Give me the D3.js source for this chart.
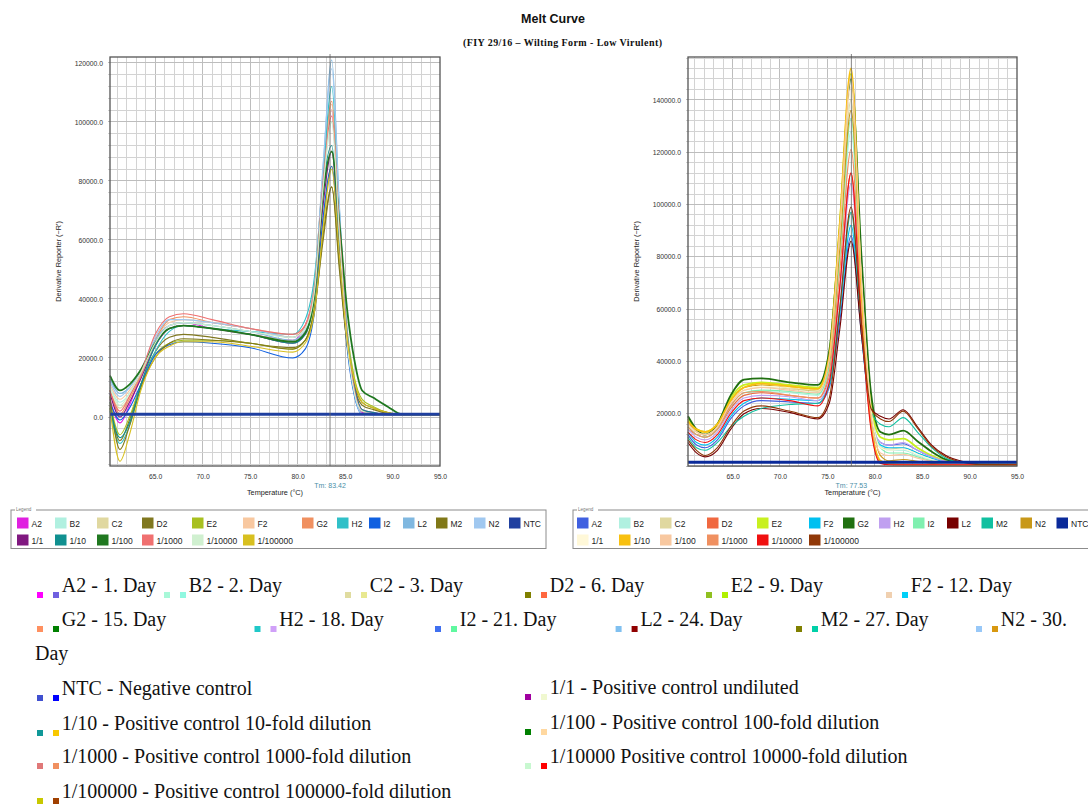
<!DOCTYPE html>
<html>
<head>
<meta charset="utf-8">
<script src="https://cdn.jsdelivr.net/npm/d3@7"></script>
<style>
  body { margin: 0; background: #fff; }
  svg { display: block; }
</style>
</head>
<body>
<svg id="page" width="1088" height="804"></svg>
<script>
// ---------- data ----------
var wells = ["A2", "B2", "C2", "D2", "E2", "F2", "G2", "H2", "I2", "L2", "M2", "N2", "NTC",
             "1/1", "1/10", "1/100", "1/1000", "1/10000", "1/100000"];

// left panel: temperature (°C) and derivative reporter (thousands)
var leftTemps = [60.25, 61.3, 62.3, 63.5, 65, 66.5, 68, 71, 75, 79.5, 80.8, 81.8, 82.7, 83.6, 84.4, 85.2, 86, 86.8, 88, 89.5, 91, 95];
var leftValues = [
  [6, -2, 4, 14, 25, 31, 32, 30, 28, 26, 31, 45, 80, 104, 66, 28, 9, 1.5, 1, 0.8, 0.8, 0.8],        // A2
  [10, 5, 8, 15, 25, 31, 32, 31, 29, 27, 30, 44, 78, 100, 62, 26, 8, 2, 1.2, 0.8, 0.8, 0.8],        // B2
  [9, 3, 7, 14, 24, 30, 31, 30, 28, 26, 29, 43, 80, 104, 66, 31, 13, 5, 3, 1.5, 0.8, 0.8],          // C2
  [4, -8, -1, 11, 22, 27, 28, 27, 25, 23.5, 26, 36, 62, 78, 52, 25, 10, 4, 2.5, 1.2, 0.8, 0.8],     // D2
  [5, -6, 0, 11, 21, 25, 26, 26, 25, 23, 26, 38, 66, 85, 56, 29, 13, 6, 3.5, 1.5, 0.8, 0.8],        // E2
  [11, 6, 9, 15, 26, 32, 33, 32, 30, 28, 31, 45, 80, 106, 66, 28, 9, 2, 1, 0.8, 0.8, 0.8],          // F2
  [9, 1, 6, 14, 26, 33, 34, 32, 30, 27, 31, 46, 83, 107, 68, 29, 9, 2, 1, 0.8, 0.8, 0.8],           // G2
  [2, -9, -3, 10, 22, 29, 31, 30, 29, 28, 33, 48, 82, 112, 70, 30, 10, 2, 1, 0.8, 0.8, 0.8],        // H2
  [5, -1, 3, 11, 21, 24.5, 25.5, 25, 23.5, 20, 23, 36, 68, 85, 56, 24, 7, 1, 0.8, 0.8, 0.8, 0.8],   // I2
  [13, 8, 10, 16, 26, 31, 32, 31, 29, 26, 29, 44, 85, 121, 72, 28, 8, 1, 0.8, 0.8, 0.8, 0.8],       // L2
  [7, -11, -3, 10, 20, 25, 26.5, 26, 25, 23, 26, 37, 60, 78, 50, 25, 11, 5, 3, 1.5, 0.8, 0.8],      // M2
  [12, 7, 10, 16, 27, 33, 33, 32, 30, 27, 30, 45, 86, 118, 71, 28, 8, 1, 0.8, 0.8, 0.8, 0.8],       // N2
  [0.9, 0.9, 0.9, 0.9, 0.9, 0.9, 0.9, 0.9, 0.9, 0.9, 0.9, 0.9, 0.9, 0.9, 0.9, 0.9, 0.9, 0.9, 0.9, 0.9, 0.9, 0.9], // NTC
  [8, 0, 5, 13, 24, 30, 31, 30, 28, 25, 28, 42, 72, 90, 58, 27, 10, 2.5, 1.5, 0.8, 0.8, 0.8],       // 1/1
  [3, -7, -2, 11, 24, 30, 31, 30, 28, 25, 28, 42, 78, 92, 60, 28, 10, 2.5, 1.5, 0.8, 0.8, 0.8],     // 1/10
  [14, 9, 11, 16, 25, 30, 31, 30, 28, 25.5, 28.5, 42, 76, 90, 66, 37, 19, 9, 6.5, 3.5, 0.9, 0.8],   // 1/100
  [9, 2, 7, 15, 28, 34, 35, 33, 30, 28, 31, 44, 80, 102, 64, 28, 9, 2, 1, 0.8, 0.8, 0.8],           // 1/1000
  [10, 4, 8, 15, 25, 31, 32, 31, 29, 27, 30, 43, 78, 100, 62, 26, 8, 2, 1, 0.8, 0.8, 0.8],          // 1/10000
  [3, -15, -6, 9, 20, 24, 25.5, 25.5, 24, 22, 25, 36, 64, 84, 55, 27, 12, 5, 3, 1.5, 0.8, 0.8]      // 1/100000
];
var leftColors = ["#e020e0", "#b0f0e0", "#e0d8a0", "#807820", "#a8c020", "#f8c8a0", "#f09060",
                  "#30c0c8", "#1060e0", "#80b8e0", "#807818", "#a0c8f0", "#2040a0",
                  "#801880", "#109090", "#207820", "#f07070", "#d0f0d0", "#d8c020"];

// right panel
var rightTemps = [60.3, 61.2, 62.1, 63.4, 64.8, 66.2, 68, 71, 74, 75.2, 76.3, 77.5, 78.6, 79.6, 80.6, 81.5, 83, 84.5, 86, 87.5, 89.5, 91, 95];
var rightValues = [
  [12, 8, 7, 10, 18, 23, 25, 24.5, 24, 30, 55, 88, 50, 18, 9, 8, 8.5, 6, 3.5, 1.8, 1, 0.6, 0.5],          // A2
  [15, 12, 11, 14, 22, 27, 28.5, 28, 27, 38, 78, 128, 66, 22, 8, 6, 6, 4, 2.5, 1.2, 0.8, 0.5, 0.5],       // B2
  [16, 13, 12, 15, 24, 29, 30, 29.5, 28.5, 40, 85, 140, 70, 22, 7, 6.5, 7, 5, 3, 1.5, 0.8, 0.5, 0.5],     // C2
  [14, 12, 11, 14, 22, 27, 28, 27, 26, 34, 68, 112, 56, 16, 1.5, 0.6, 0.5, 0.5, 0.5, 0.5, 0.5, 0.5, 0.5], // D2
  [18, 14, 13, 16, 26, 31, 32, 31, 30, 43, 92, 150, 74, 24, 11, 10, 10.5, 7, 4, 2, 1, 0.5, 0.5],         // E2
  [13, 9, 8, 11, 19, 24, 26, 25.5, 25, 31, 58, 92, 50, 18, 8, 7, 7, 5, 3, 1.5, 0.8, 0.5, 0.5],           // F2
  [19, 14, 12, 16, 27, 33, 33.5, 32, 31, 44, 90, 148, 80, 28, 13, 12, 13.5, 9.5, 5.5, 2.5, 1.2, 0.6, 0.5], // G2
  [14, 11, 10, 13, 21, 26, 27, 26.5, 25, 33, 66, 108, 56, 19, 9, 8, 9, 6, 3.5, 1.8, 0.9, 0.5, 0.5],      // H2
  [15, 12, 11, 14, 23, 28, 29, 28.5, 27.5, 38, 80, 133, 68, 21, 7, 5, 5, 3.5, 2, 1, 0.6, 0.5, 0.5],      // I2
  [9, 5, 3.5, 6, 14, 20, 22, 20.5, 18, 24, 52, 86, 50, 22, 19, 18, 21.5, 15, 8, 4, 1.5, 0.6, 0.5],       // L2
  [11, 7, 6, 9, 15, 19, 22, 23.5, 24, 31, 60, 97, 54, 21, 16, 15, 18.5, 13, 7, 3, 1.2, 0.6, 0.5],        // M2
  [17, 13, 12, 15, 25, 30, 31, 30, 29, 40, 83, 136, 70, 22, 4, 2, 2.5, 1.8, 1, 0.6, 0.5, 0.5, 0.5],      // N2
  [1.4, 1.4, 1.4, 1.4, 1.4, 1.4, 1.4, 1.4, 1.4, 1.4, 1.4, 1.4, 1.4, 1.4, 1.4, 1.4, 1.4, 1.4, 1.4, 1.4, 1.4, 1.4, 1.4], // NTC
  [16, 13, 12, 15, 24, 29, 30.5, 30, 29, 41, 88, 145, 72, 22, 7, 6, 6.5, 4.5, 2.5, 1.2, 0.7, 0.5, 0.5],  // 1/1
  [17, 14, 13, 16, 25, 30, 31.5, 30.5, 29.5, 42, 92, 152, 66, 16, 2, 0.8, 0.6, 0.5, 0.5, 0.5, 0.5, 0.5, 0.5], // 1/10
  [16, 13, 12, 15, 24, 29, 30, 29, 28, 41, 90, 149, 70, 20, 5, 4, 4.5, 3, 1.8, 1, 0.6, 0.5, 0.5],        // 1/100
  [15, 12, 11, 14, 23, 28, 28.5, 27, 26, 36, 74, 121, 58, 15, 1.2, 0.6, 0.5, 0.5, 0.5, 0.5, 0.5, 0.5, 0.5], // 1/1000
  [13, 10, 9, 12, 20, 25, 26, 25, 23, 32, 68, 112, 54, 14, 1, 0.5, 0.5, 0.5, 0.5, 0.5, 0.5, 0.5, 0.5],   // 1/10000
  [10, 6, 4, 7, 15, 21, 23, 21, 18.5, 26, 60, 99, 54, 22, 18, 17, 21, 14.5, 7.5, 3.5, 1.3, 0.6, 0.5]     // 1/100000
];
var rightColors = ["#4060e0", "#b0f0e0", "#e0d8a0", "#f06840", "#c8f020", "#00c0f0", "#207010",
                   "#c0a0f0", "#80f0b0", "#780000", "#10c0a0", "#c89818", "#0a2a9a",
                   "#fff8d8", "#f8c010", "#f8c8a0", "#f09060", "#f01010", "#903808"];

var xTicks = [65, 70, 75, 80, 85, 90, 95];
var leftYTicks = [0, 20, 40, 60, 80, 100, 120];
var rightYTicks = [20, 40, 60, 80, 100, 120, 140];

// notes below the charts
var noteLabels = ["A2 - 1. Day", "B2 - 2. Day", "C2 - 3. Day", "D2 - 6. Day", "E2 - 9. Day", "F2 - 12. Day",
                  "G2 - 15. Day", "H2 - 18. Day", "I2 - 21. Day", "L2 - 24. Day", "M2 - 27. Day", "N2 - 30.",
                  "NTC - Negative control", "1/1 - Positive control undiluted",
                  "1/10 - Positive control 10-fold dilution", "1/100 - Positive control 100-fold dilution",
                  "1/1000 - Positive control 1000-fold dilution", "1/10000 Positive control 10000-fold dilution",
                  "1/100000 - Positive control 100000-fold dilution"];
var noteColorsA = ["#ff00ff", "#a8f8d8", "#e0dca0", "#808000", "#90c020", "#f0d0b0", "#ff9060", "#20c8c8",
                   "#4070f0", "#80c0f0", "#808000", "#98c8f8", "#4050d0", "#a000a0", "#109898", "#008000",
                   "#e07878", "#c8f8d0", "#c8c800"];
var noteColorsB = ["#7060e0", "#90f8e0", "#e8e890", "#ff6840", "#b0f000", "#00d0f8", "#008000", "#d0a0f8",
                   "#60f8a0", "#900000", "#00d0a8", "#d89810", "#0000ff", "#f0f8d0", "#f8c800", "#ffd8a0",
                   "#f09060", "#ff0000", "#a04000"];

// ---------- layout ----------
var sans = "'Liberation Sans', Arial, sans-serif";
var serif = "'Liberation Serif', 'Times New Roman', serif";
var svg = d3.select("#page");

// title
svg.append("text").attr("x", 553).attr("y", 23).attr("text-anchor", "middle")
    .attr("font-family", sans).attr("font-weight", "bold").attr("font-size", 12.5)
    .attr("fill", "#111").text("Melt Curve");
svg.append("text").attr("x", 463).attr("y", 45.5)
    .attr("font-family", serif).attr("font-weight", "bold").attr("font-size", 10)
    .attr("textLength", 199).attr("lengthAdjust", "spacing")
    .attr("fill", "#111").text("(FIY 29/16 \u2013 Wilting Form - Low Virulent)");

function drawPanel(p) {
    var x = d3.scaleLinear().domain(p.xDomain).range([p.left, p.right]);
    var y = d3.scaleLinear().domain(p.yDomain).range([p.bottom, p.top]);
    var g = svg.append("g");

    // grid: 1 °C and 4000 apart
    var grid = g.append("g").attr("shape-rendering", "crispEdges");
    grid.selectAll("line.v")
        .data(d3.range(Math.ceil(p.xDomain[0]), p.xDomain[1], 1))
        .join("line").attr("class", "v")
        .attr("x1", d => x(d)).attr("x2", d => x(d))
        .attr("y1", p.top).attr("y2", p.bottom)
        .attr("stroke", d => d % 5 === 0 ? "#bdbdbd" : "#d3d3d3");
    grid.selectAll("line.h")
        .data(d3.range(Math.ceil(p.yDomain[0] / 4) * 4, p.yDomain[1], 4))
        .join("line").attr("class", "h")
        .attr("x1", p.left - 2).attr("x2", p.right)
        .attr("y1", d => y(d)).attr("y2", d => y(d))
        .attr("stroke", d => d % 20 === 0 ? "#bdbdbd" : "#d3d3d3");

    // axes
    g.append("g").attr("transform", `translate(${p.left},0)`)
        .call(d3.axisLeft(y).tickValues(p.yTicks).tickSize(0).tickPadding(7)
            .tickFormat(d => (d * 1000).toFixed(1)))
        .call(a => a.select(".domain").remove())
        .selectAll("text").attr("font-size", 6.8).attr("font-family", sans).attr("fill", "#333");
    g.append("g").attr("transform", `translate(0,${p.bottom})`)
        .call(d3.axisBottom(x).tickValues(xTicks).tickSize(0).tickPadding(8)
            .tickFormat(d => d.toFixed(1)))
        .call(a => a.select(".domain").remove())
        .selectAll("text").attr("font-size", 6.8).attr("font-family", sans).attr("fill", "#333");

    // curves, NTC last
    var line = d3.line()
        .x((d, i) => x(p.temps[i]))
        .y(d => y(d))
        .curve(d3.curveMonotoneX);
    var order = d3.range(p.values.length).filter(i => wells[i] !== "NTC");
    order.push(wells.indexOf("NTC"));
    g.append("g").selectAll("path")
        .data(order)
        .join("path")
        .attr("d", i => line(p.values[i]))
        .attr("fill", "none")
        .attr("stroke", i => p.colors[i])
        .attr("stroke-width", i => wells[i] === "NTC" ? 3 : (p.bold.indexOf(wells[i]) >= 0 ? 1.8 : 1.1))
        .attr("stroke-linejoin", "round");

    // Tm marker
    g.append("line")
        .attr("x1", x(p.tm)).attr("x2", x(p.tm))
        .attr("y1", p.top - 3).attr("y2", p.bottom)
        .attr("stroke", "#666").attr("stroke-width", 0.8);
    g.append("text").attr("x", x(p.tm)).attr("y", p.bottom + 22)
        .attr("text-anchor", "middle").attr("font-family", sans).attr("font-size", 7)
        .attr("fill", "#4a8fa8").text("Tm: " + p.tm.toFixed(2));

    // frame
    g.append("rect").attr("x", p.left).attr("y", p.top)
        .attr("width", p.right - p.left).attr("height", p.bottom - p.top)
        .attr("fill", "none").attr("stroke", "#555").attr("stroke-width", 1.3);

    // axis titles
    g.append("text").attr("x", (p.left + p.right) / 2).attr("y", p.bottom + 29)
        .attr("text-anchor", "middle").attr("font-family", sans).attr("font-size", 7.3)
        .attr("fill", "#222").text("Temperature (\u00b0C)");
    g.append("text")
        .attr("transform", `translate(${p.left - 49},${(p.top + p.bottom) / 2}) rotate(-90)`)
        .attr("text-anchor", "middle").attr("font-family", sans).attr("font-size", 7.3)
        .attr("fill", "#222").text("Derivative Reporter (\u2212R')");
}

drawPanel({
    left: 110, right: 440, top: 57, bottom: 466,
    xDomain: [60.25, 95], yDomain: [-16.6, 122],
    temps: leftTemps, values: leftValues, colors: leftColors,
    yTicks: leftYTicks, tm: 83.42, bold: ["1/100"]
});
drawPanel({
    left: 688, right: 1017, top: 57, bottom: 466,
    xDomain: [60.3, 95], yDomain: [0, 156.4],
    temps: rightTemps, values: rightValues, colors: rightColors,
    yTicks: rightYTicks, tm: 77.53, bold: ["G2", "E2", "1/10"]
});

// legend boxes
function drawLegend(L) {
    var g = svg.append("g");
    g.append("rect").attr("x", L.x).attr("y", 510).attr("width", L.w).attr("height", 38.5)
        .attr("fill", "none").attr("stroke", "#8c8c8c").attr("stroke-width", 1);
    g.append("rect").attr("x", L.x + 4).attr("y", 506).attr("width", 21).attr("height", 7).attr("fill", "#fff");
    g.append("text").attr("x", L.x + 5).attr("y", 510.5)
        .attr("font-family", sans).attr("font-size", 4.6).attr("fill", "#777").text("Legend");

    var item = g.selectAll("g.item")
        .data(wells)
        .join("g").attr("class", "item")
        .attr("transform", (d, i) => i < 13
            ? `translate(${L.cols[i]},517.5)`
            : `translate(${L.cols[i - 13]},534.5)`);
    item.append("rect").attr("width", 11.5).attr("height", 11)
        .attr("fill", (d, i) => L.colors[i]);
    item.append("text").attr("x", 14.5).attr("y", 9)
        .attr("font-family", sans).attr("font-size", 8.5).attr("fill", "#222")
        .text(d => d);
}

drawLegend({
    x: 11, w: 535, colors: leftColors,
    cols: [17, 55, 97, 142, 192, 243, 302, 337, 369, 403, 436, 474, 509]
});
drawLegend({
    x: 573, w: 530, colors: rightColors,
    cols: [577, 619, 660, 707, 757, 809, 843, 879, 913, 947, 981.5, 1020.5, 1056.5]
});

// notes with two colour squares each
var noteX = [40, 167, 348, 528, 709, 889, 40, 257.5, 438, 618.6, 799, 979, 40, 528, 40, 528, 40, 528, 40];
var noteY = [592, 592, 592, 592, 592, 592, 626, 626, 626, 626, 626, 626, 695, 694, 730, 729, 763, 763, 798];

var note = svg.append("g").selectAll("g.note")
    .data(noteLabels)
    .join("g").attr("class", "note")
    .attr("transform", (d, i) => `translate(${noteX[i]},${noteY[i]})`);
note.append("rect").attr("x", -3).attr("y", 0).attr("width", 6).attr("height", 6)
    .attr("fill", (d, i) => noteColorsA[i]);
note.append("rect").attr("x", 13).attr("y", 0).attr("width", 6).attr("height", 6)
    .attr("fill", (d, i) => noteColorsB[i]);
note.append("text").attr("x", 21.8).attr("y", 0)
    .attr("font-family", serif).attr("font-size", 20).attr("fill", "#111")
    .text(d => d);

// wrapped end of the N2 note
svg.append("text").attr("x", 35).attr("y", 660)
    .attr("font-family", serif).attr("font-size", 20).attr("fill", "#111").text("Day");
</script>
</body>
</html>
